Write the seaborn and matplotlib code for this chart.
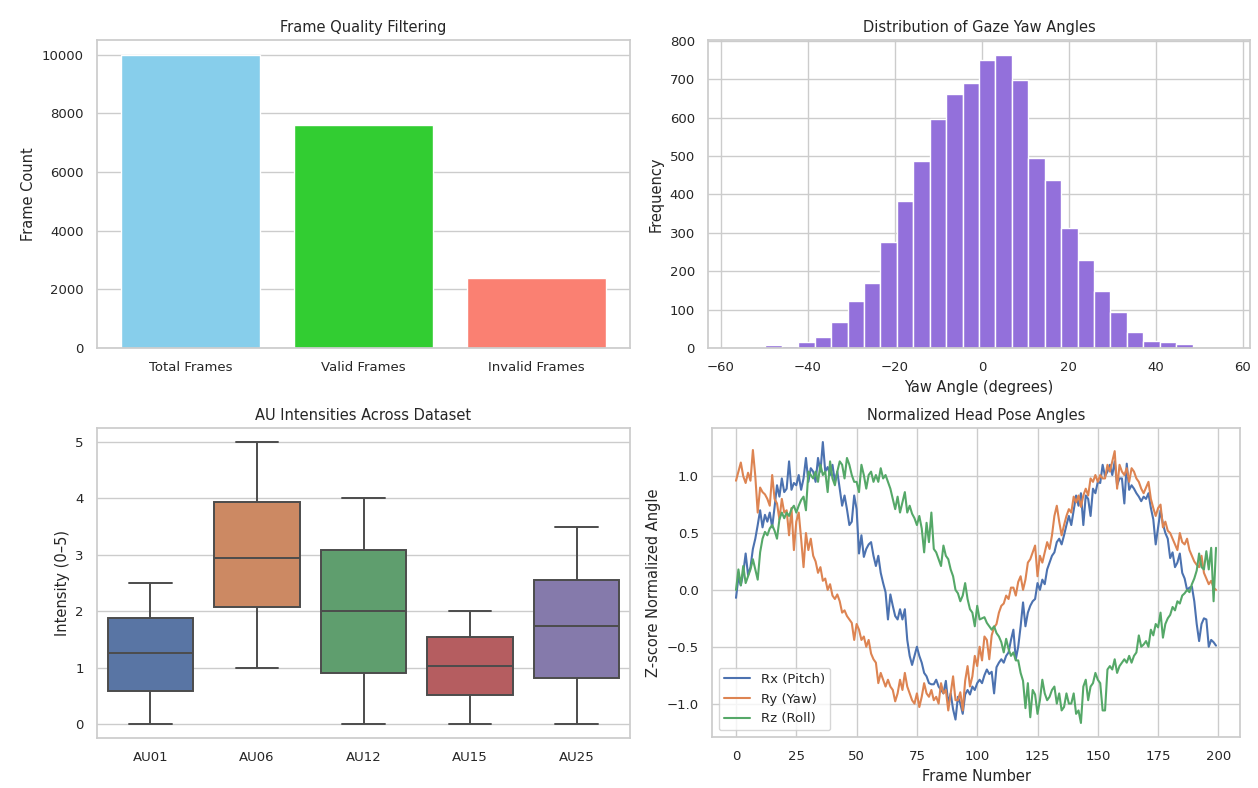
import numpy as np
import pandas as pd
import matplotlib
matplotlib.use("Agg")
import matplotlib.pyplot as plt
import seaborn as sns

sns.set_theme(style="whitegrid")
plt.rcParams['font.family'] = ['DejaVu Sans']

# --- Frame quality filtering ---
frame_labels = ['Total Frames', 'Valid Frames', 'Invalid Frames']
frame_counts = [10000, 7600, 2400]
frame_colors = ['skyblue', 'limegreen', 'salmon']

# --- Gaze yaw histogram (30 bins, counts) ---
yaw_range = (-57.3, 56.0)
yaw_counts = [1, 1, 8, 5, 15, 28, 67, 123, 169, 276, 384, 487, 596, 662, 691,
              750, 764, 697, 494, 437, 313, 230, 149, 95, 41, 18, 16, 10, 1, 1]

# --- AU intensities: min, Q1, median, Q3, max per unit ---
au_names = ['AU01', 'AU06', 'AU12', 'AU15', 'AU25']
au_values = {
    'AU01': [0.0, 0.58, 1.25, 1.88, 2.5],
    'AU06': [1.0, 2.07, 2.95, 3.93, 5.0],
    'AU12': [0.0, 0.91, 2.0, 3.08, 4.0],
    'AU15': [0.0, 0.52, 1.02, 1.54, 2.0],
    'AU25': [0.0, 0.81, 1.74, 2.56, 3.5],
}

# --- Normalized head pose (200 frames) ---
rx_pitch = [
    -0.07, 0.11, 0.04, 0.15, 0.32, 0.13, 0.20, 0.36, 0.45, 0.57,
    0.70, 0.55, 0.66, 0.60, 0.68, 0.55, 0.73, 0.92, 0.82, 0.98,
    0.86, 0.89, 1.13, 0.88, 0.94, 0.92, 1.01, 0.88, 0.98, 1.16,
    0.95, 1.07, 1.04, 0.95, 1.16, 1.04, 1.30, 1.04, 1.08, 1.01,
    1.10, 0.95, 1.04, 0.89, 0.74, 0.83, 0.71, 0.57, 0.60, 0.83,
    0.71, 0.32, 0.48, 0.29, 0.36, 0.40, 0.42, 0.30, 0.21, 0.30,
    0.15, 0.06, -0.02, -0.26, -0.04, -0.14, -0.23, -0.26, -0.17, -0.26,
    -0.17, -0.44, -0.58, -0.66, -0.58, -0.50, -0.58, -0.64, -0.73, -0.76,
    -0.82, -0.83, -0.83, -0.79, -0.85, -0.88, -0.91, -0.80, -1.00, -0.91,
    -1.05, -1.14, -0.94, -1.00, -1.09, -0.92, -0.88, -0.92, -0.85, -0.88,
    -0.82, -0.79, -0.82, -0.75, -0.70, -0.74, -0.72, -0.91, -0.68, -0.64,
    -0.61, -0.64, -0.58, -0.55, -0.44, -0.35, -0.61, -0.50, -0.32, -0.11,
    -0.32, -0.20, -0.14, -0.10, -0.08, 0.06, 0.00, 0.09, 0.05, 0.18,
    0.24, 0.30, 0.33, 0.42, 0.45, 0.40, 0.48, 0.57, 0.65, 0.57,
    0.70, 0.83, 0.74, 0.85, 0.57, 0.83, 0.80, 0.65, 0.89, 0.85,
    0.95, 0.94, 1.10, 1.00, 1.04, 1.10, 1.01, 1.13, 0.92, 0.98,
    0.98, 0.76, 1.11, 0.88, 0.92, 0.89, 0.85, 0.82, 0.78, 0.82,
    0.80, 0.85, 0.72, 0.62, 0.40, 0.55, 0.70, 0.58, 0.50, 0.45,
    0.28, 0.33, 0.20, 0.24, 0.32, 0.15, 0.10, 0.00, 0.02, 0.03,
    -0.10, -0.30, -0.45, -0.30, -0.25, -0.26, -0.50, -0.44, -0.46, -0.49,
]
ry_yaw = [
    0.96, 1.04, 1.12, 1.00, 0.94, 1.03, 0.96, 1.23, 1.00, 0.68,
    0.90, 0.86, 0.84, 0.80, 0.74, 1.01, 0.80, 0.76, 0.62, 0.80,
    0.68, 0.70, 0.48, 0.72, 0.35, 0.60, 0.68, 0.45, 0.20, 0.50,
    0.35, 0.45, 0.30, 0.25, 0.15, 0.20, 0.08, 0.10, 0.00, 0.05,
    -0.05, -0.08, -0.04, -0.10, -0.20, -0.18, -0.23, -0.26, -0.29, -0.44,
    -0.30, -0.35, -0.44, -0.41, -0.50, -0.44, -0.56, -0.61, -0.64, -0.82,
    -0.73, -0.79, -0.85, -0.79, -0.85, -0.88, -0.98, -0.91, -0.79, -0.88,
    -0.73, -0.85, -0.91, -0.97, -1.00, -0.91, -1.03, -0.94, -0.82, -0.91,
    -0.94, -0.88, -0.97, -0.94, -1.00, -0.82, -0.91, -0.88, -1.06, -0.91,
    -0.76, -0.97, -0.97, -0.90, -1.06, -0.80, -0.67, -0.85, -0.76, -0.58,
    -0.67, -0.50, -0.62, -0.41, -0.44, -0.61, -0.40, -0.33, -0.30, -0.20,
    -0.14, -0.12, -0.05, -0.08, 0.02, 0.02, -0.05, 0.07, 0.12, 0.00,
    0.09, 0.24, 0.27, 0.33, 0.39, 0.12, 0.30, 0.24, 0.33, 0.42,
    0.36, 0.48, 0.65, 0.74, 0.60, 0.48, 0.57, 0.65, 0.71, 0.68,
    0.82, 0.77, 0.83, 0.73, 0.83, 0.89, 0.83, 0.98, 0.95, 1.01,
    0.95, 1.01, 0.98, 0.98, 1.10, 1.04, 1.13, 1.22, 0.89, 1.10,
    1.04, 1.01, 1.07, 0.95, 1.07, 1.04, 0.98, 0.95, 0.89, 0.85,
    0.90, 0.95, 0.80, 0.72, 0.65, 0.72, 0.75, 0.55, 0.60, 0.52,
    0.50, 0.45, 0.40, 0.35, 0.50, 0.42, 0.40, 0.45, 0.35, 0.30,
    0.25, 0.22, 0.20, 0.30, 0.15, 0.10, 0.05, 0.08, 0.02, 0.00,
]
rz_roll = [
    0.00, 0.18, 0.04, 0.21, 0.06, 0.12, 0.18, 0.27, 0.18, 0.09,
    0.33, 0.45, 0.51, 0.48, 0.54, 0.57, 0.52, 0.45, 0.62, 0.68,
    0.63, 0.68, 0.65, 0.71, 0.74, 0.68, 0.74, 0.79, 0.82, 0.70,
    1.04, 1.01, 0.98, 1.04, 0.95, 1.10, 1.01, 1.04, 0.86, 1.13,
    0.98, 0.92, 1.04, 1.13, 1.10, 0.98, 1.16, 1.10, 1.01, 0.95,
    0.95, 0.86, 1.10, 1.01, 0.89, 1.01, 1.04, 0.95, 1.01, 0.95,
    1.07, 0.98, 1.01, 0.95, 0.89, 0.80, 0.71, 0.82, 0.68, 0.77,
    0.86, 0.68, 0.74, 0.67, 0.63, 0.57, 0.65, 0.54, 0.33, 0.59,
    0.42, 0.68, 0.36, 0.33, 0.27, 0.21, 0.39, 0.30, 0.27, 0.18,
    0.12, 0.00, -0.03, -0.10, -0.05, 0.06, -0.08, -0.17, -0.20, -0.32,
    -0.14, -0.26, -0.25, -0.24, -0.29, -0.32, -0.35, -0.32, -0.38, -0.41,
    -0.46, -0.55, -0.43, -0.52, -0.58, -0.55, -0.62, -0.62, -0.73, -0.80,
    -1.04, -0.82, -1.12, -0.88, -0.92, -1.09, -0.97, -0.79, -0.91, -0.97,
    -0.94, -0.88, -0.85, -1.00, -0.91, -1.06, -1.03, -0.91, -1.00, -1.00,
    -0.91, -1.09, -1.06, -1.17, -0.85, -0.79, -0.97, -0.85, -0.82, -0.73,
    -0.79, -0.82, -1.06, -1.06, -0.70, -0.67, -0.70, -0.61, -0.73, -0.67,
    -0.64, -0.61, -0.64, -0.58, -0.64, -0.58, -0.55, -0.40, -0.50, -0.48,
    -0.45, -0.50, -0.35, -0.40, -0.30, -0.33, -0.20, -0.42, -0.30, -0.25,
    -0.22, -0.15, -0.18, -0.10, -0.12, -0.05, -0.03, 0.00, -0.02, 0.05,
    0.10, 0.17, 0.32, 0.20, 0.18, 0.34, 0.18, 0.37, -0.10, 0.37,
]
pose_labels = ['Rx (Pitch)', 'Ry (Yaw)', 'Rz (Roll)']

TITLE_FS = 10.5
LABEL_FS = 10.5
TICK_FS = 9.5

fig, axes = plt.subplots(2, 2, figsize=(12.58, 7.88), dpi=100)
W, H = 1258, 788


def place(ax, x0, y0, x1, y1):
    ax.set_position([x0 / W, 1 - y1 / H, (x1 - x0) / W, (y1 - y0) / H])


# Frame quality bar chart
ax = axes[0, 0]
sns.barplot(x=frame_labels, y=frame_counts, hue=frame_labels, palette=frame_colors,
            saturation=1, width=0.8, legend=False, ax=ax)
ax.set_xlim(-0.54, 2.54)
ax.set_title('Frame Quality Filtering', fontsize=TITLE_FS)
ax.set_ylabel('Frame Count', fontsize=LABEL_FS)
place(ax, 97, 40, 630, 348)

# Gaze yaw histogram
ax = axes[0, 1]
nbins = len(yaw_counts)
bw = (yaw_range[1] - yaw_range[0]) / nbins
yaw_df = pd.DataFrame({
    'yaw': [yaw_range[0] + bw * (i + 0.5) for i in range(nbins)],
    'count': yaw_counts,
})
sns.histplot(data=yaw_df, x='yaw', weights='count', bins=nbins, binrange=yaw_range,
             color='mediumpurple', alpha=1, edgecolor='white', linewidth=1, ax=ax)
ax.set_title('Distribution of Gaze Yaw Angles', fontsize=TITLE_FS)
ax.set_xlabel('Yaw Angle (degrees)', fontsize=LABEL_FS)
ax.set_ylabel('Frequency', fontsize=LABEL_FS)
place(ax, 708, 40, 1250, 348)

# AU intensities boxplot
ax = axes[1, 0]
au_df = pd.DataFrame([(au, v) for au in au_names for v in au_values[au]],
                     columns=['AU', 'Intensity'])
sns.boxplot(data=au_df, x='AU', y='Intensity', hue='AU', palette='deep',
            linewidth=1.4, legend=False, ax=ax)
ax.set_title('AU Intensities Across Dataset', fontsize=TITLE_FS)
ax.set_xlabel('')
ax.set_ylabel('Intensity (0\u20135)', fontsize=LABEL_FS)
place(ax, 97, 428, 630, 738)

# Head pose lines
ax = axes[1, 1]
frames = np.arange(len(rx_pitch))
for series, lab, col in zip([rx_pitch, ry_yaw, rz_roll], pose_labels, sns.color_palette('deep', 3)):
    sns.lineplot(x=frames, y=series, label=lab, color=col, linewidth=1.5, ax=ax)
ax.set_title('Normalized Head Pose Angles', fontsize=TITLE_FS)
ax.set_xlabel('Frame Number', fontsize=LABEL_FS)
ax.set_ylabel('Z-score Normalized Angle', fontsize=LABEL_FS)
ax.legend(loc='lower left', fontsize=9.5)
place(ax, 712, 428, 1240, 737)

for a in axes.flat:
    a.tick_params(labelsize=TICK_FS)

fig.savefig('out.png', dpi=100)
